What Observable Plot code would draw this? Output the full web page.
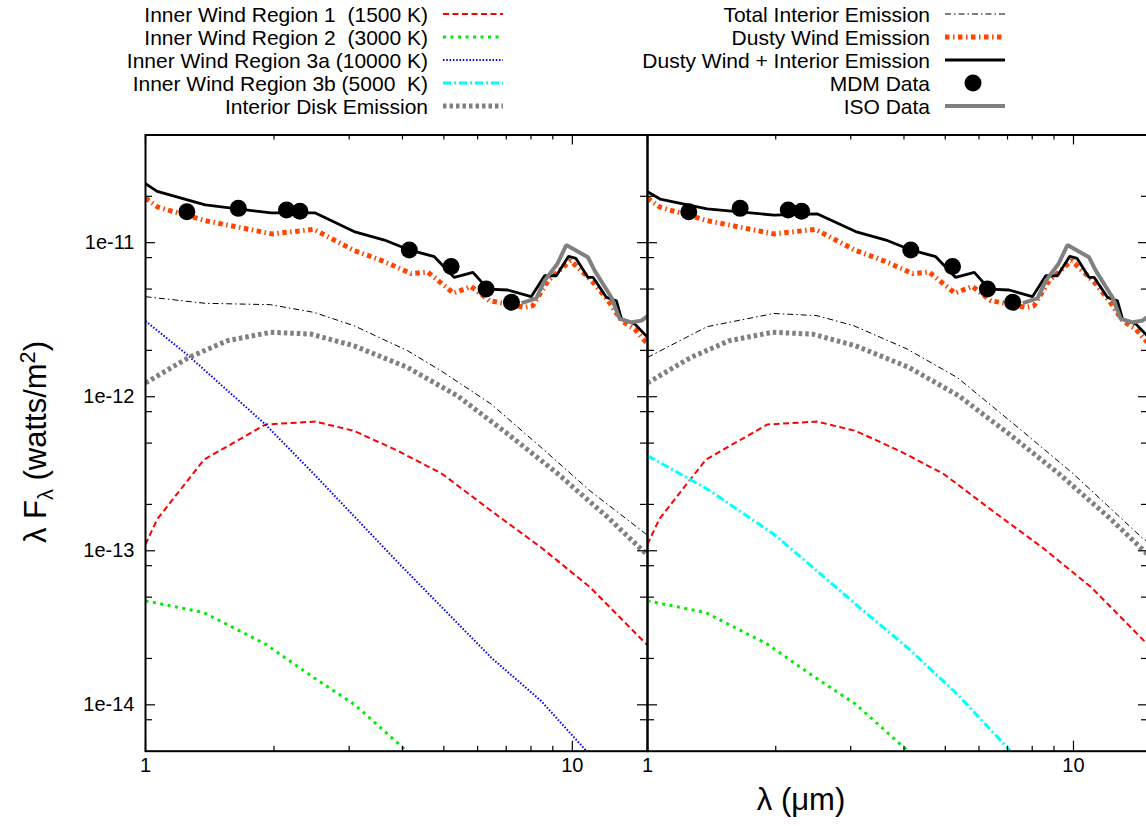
<!DOCTYPE html>
<html><head><meta charset="utf-8">
<script src="https://cdn.jsdelivr.net/npm/d3@7"></script>
<script src="https://cdn.jsdelivr.net/npm/@observablehq/plot@0.6"></script>
<style>
html,body{margin:0;padding:0;background:#fff;}
#root{position:relative;width:1146px;height:826px;overflow:hidden;font-family:"Liberation Sans",Arial,sans-serif;color:#000;background:#fff;}
.pl{position:absolute;top:120px;}
.legtxt{position:absolute;font-size:21px;white-space:pre;text-align:right;line-height:23px;}
.legsw{position:absolute;}
#ylab{position:absolute;left:37px;top:442px;transform:translate(-50%,-50%) rotate(-90deg);font-size:31px;white-space:nowrap;}
#xlab{position:absolute;left:801px;top:800px;transform:translate(-50%,-50%);font-size:31px;white-space:nowrap;}
sub,sup{font-size:70%;}
</style></head><body><div id="root"></div>
<script>
// ---------------- data ----------------
const xMajor = [1, 10];
const xMinor = [2, 3, 4, 5, 6, 7, 8, 9];
const yMajor = [1e-14, 1e-13, 1e-12, 1e-11];
const yMinor = [8e-15, 2e-14, 5e-14, 8e-14, 2e-13, 5e-13, 8e-13, 2e-12, 5e-12, 8e-12, 2e-11];

// Inner Wind Region 1 (1500 K)
const r1X = [1.0, 1.065, 1.37, 1.91, 2.5, 3.08, 3.9, 4.96, 6.45, 8.45, 11.0, 14.9, 15.3];
const r1Y = [1.1e-13, 1.6e-13, 3.9e-13, 6.6e-13, 6.9e-13, 6.0e-13, 4.46e-13, 3.15e-13, 1.82e-13, 1.05e-13, 5.8e-14, 2.48e-14, 2.3e-14];
// Inner Wind Region 2 (3000 K)
const r2X = [1.0, 1.37, 1.91, 2.48, 3.08, 4.04, 4.5];
const r2Y = [4.73e-14, 3.97e-14, 2.48e-14, 1.5e-14, 1.01e-14, 5.16e-15, 3.4e-15];
// Inner Wind Region 3a (10000 K)
const r3aX = [1.0, 1.26, 1.91, 2.48, 3.97, 6.45, 8.45, 10.8, 11.6];
const r3aY = [3.1e-12, 1.85e-12, 6.6e-13, 3.15e-13, 8.0e-14, 2.03e-14, 1.06e-14, 5.0e-15, 4.0e-15];
// Inner Wind Region 3b (5000 K)
const r3bX = [1.0, 1.38, 1.98, 2.5, 3.05, 4.07, 5.34, 6.98, 7.6];
const r3bY = [4.14e-13, 2.52e-13, 1.28e-13, 7.4e-14, 4.6e-14, 2.36e-14, 1.17e-14, 5.3e-15, 4.0e-15];
// Interior Disk Emission
const diskX = [1.0, 1.264, 1.555, 1.965, 2.44, 3.08, 4.11, 5.39, 7.06, 9.26, 12.13, 14.92, 15.3];
const diskY = [1.23e-12, 1.8e-12, 2.31e-12, 2.62e-12, 2.55e-12, 2.14e-12, 1.55e-12, 1.01e-12, 5.73e-13, 3.15e-13, 1.64e-13, 9.5e-14, 9.0e-14];
// Total Interior Emission (left: with 3a, right: with 3b)
const intLX = [1.0, 1.38, 1.96, 2.48, 3.08, 4.11, 4.93, 6.45, 8.45, 11.0, 14.9, 15.3];
const intLY = [4.46e-12, 4.04e-12, 3.96e-12, 3.53e-12, 2.89e-12, 1.99e-12, 1.47e-12, 8.97e-13, 4.69e-13, 2.45e-13, 1.28e-13, 1.22e-13];
const intRX = [1.0, 1.38, 1.98, 2.5, 3.05, 4.07, 5.34, 7.65, 10.0, 14.6, 15.3];
const intRY = [1.8e-12, 2.85e-12, 3.47e-12, 3.36e-12, 2.89e-12, 2.04e-12, 1.33e-12, 5.87e-13, 3.15e-13, 1.19e-13, 1.1e-13];
// Dusty Wind Emission
const windX = [1.0, 1.07, 1.38, 1.98, 2.48, 3.08, 3.6, 4.19, 4.58, 5.27, 5.79, 6.4, 7.06, 7.74, 8.08, 8.77, 9.9, 10.69, 11.28, 12.13, 13.03, 14.0, 14.78, 15.3];
const windY = [1.95e-11, 1.7e-11, 1.39e-11, 1.14e-11, 1.22e-11, 8.9e-12, 7.6e-12, 6.3e-12, 6.45e-12, 4.7e-12, 5.2e-12, 4.2e-12, 4.0e-12, 3.8e-12, 3.9e-12, 5.67e-12, 7.64e-12, 6.26e-12, 5.39e-12, 4.2e-12, 3.12e-12, 2.75e-12, 2.31e-12, 2.15e-12];
// Dusty Wind + Interior Emission
const totLX = [1.0, 1.065, 1.38, 1.97, 2.5, 3.08, 3.63, 4.15, 4.75, 5.29, 5.85, 6.34, 7.06, 8.01, 8.61, 9.17, 9.8, 10.2, 10.88, 11.19, 12.02, 12.68, 13.03, 14.0, 15.3];
const totLY = [2.42e-11, 2.15e-11, 1.76e-11, 1.56e-11, 1.56e-11, 1.18e-11, 1.04e-11, 8.97e-12, 8.11e-12, 5.95e-12, 6.41e-12, 5.0e-12, 4.93e-12, 4.46e-12, 6.1e-12, 6.1e-12, 8.15e-12, 7.9e-12, 5.95e-12, 5.95e-12, 4.41e-12, 4.2e-12, 3.2e-12, 2.97e-12, 2.3e-12];
const totRX = [1.0, 1.07, 1.38, 1.98, 2.5, 3.08, 3.63, 4.15, 4.75, 5.29, 5.85, 6.34, 7.06, 8.01, 8.61, 9.17, 9.8, 10.2, 10.88, 11.19, 12.02, 12.68, 13.03, 14.0, 15.3];
const totRY = [2.14e-11, 1.92e-11, 1.66e-11, 1.51e-11, 1.54e-11, 1.18e-11, 1.04e-11, 8.97e-12, 8.11e-12, 5.95e-12, 6.41e-12, 5.0e-12, 4.93e-12, 4.46e-12, 6.1e-12, 6.1e-12, 8.15e-12, 7.9e-12, 5.95e-12, 5.95e-12, 4.41e-12, 4.2e-12, 3.2e-12, 2.97e-12, 2.3e-12];
// MDM Data
const mdmX = [1.25, 1.65, 2.14, 2.3, 4.15, 5.2, 6.28, 7.2];
const mdmY = [1.59e-11, 1.67e-11, 1.63e-11, 1.6e-11, 8.97e-12, 7.0e-12, 5.0e-12, 4.1e-12];
// ISO Data
const isoX = [7.6, 8.23, 8.61, 9.22, 9.68, 10.88, 11.28, 12.35, 12.91, 13.76, 14.52, 15.05, 15.4];
const isoY = [4.05e-12, 4.35e-12, 5.67e-12, 7.27e-12, 9.66e-12, 8.03e-12, 6.58e-12, 4.41e-12, 3.2e-12, 3.04e-12, 3.12e-12, 3.36e-12, 3.5e-12];

const legendLeft = [
  {label: "Inner Wind Region 1  (1500 K)", stroke: "#ff0000", width: 2, dash: "6,3.5"},
  {label: "Inner Wind Region 2  (3000 K)", stroke: "#00ee00", width: 3, dash: "3,4.5"},
  {label: "Inner Wind Region 3a (10000 K)", stroke: "#0000ff", width: 2, dash: "1.5,1.8"},
  {label: "Inner Wind Region 3b (5000  K)", stroke: "#00ffff", width: 3, dash: "8,3,2,3"},
  {label: "Interior Disk Emission", stroke: "#808080", width: 5, dash: "3.5,3"}
];
const legendRight = [
  {label: "Total Interior Emission", stroke: "#000000", width: 1, dash: "6,3,1.5,3"},
  {label: "Dusty Wind Emission", stroke: "#ff4500", width: 5, dash: "4.5,3.5,1.5,3.5"},
  {label: "Dusty Wind + Interior Emission", stroke: "#000000", width: 2.8, dash: null},
  {label: "MDM Data", dot: true},
  {label: "ISO Data", stroke: "#808080", width: 4, dash: null}
];

// ---------------- helpers ----------------
const pts = (xs, ys) => xs.map((x, i) => ({x, y: ys[i]}));
const root = document.getElementById("root");
const FONT = "Liberation Sans, Arial, sans-serif";
const TOP = 120, MT = 14.5, MB = 75.3, H = 706;
const IH = H - MT - MB;

function panel({left, width, ml, mr, interior, r3, r3style, total, showY}) {
  const IW = width - ml - mr;
  const majL = 10, minL = 5;
  const lineOpt = (s) => ({x: "x", y: "y", stroke: s.stroke, strokeWidth: s.width,
    strokeDasharray: s.dash || undefined, strokeLinecap: "butt", strokeLinejoin: "miter", clip: true});
  const marks = [
    Plot.line(pts(r1X, r1Y), lineOpt(legendLeft[0])),
    Plot.line(pts(r2X, r2Y), lineOpt(legendLeft[1])),
    Plot.line(r3, lineOpt(r3style)),
    Plot.line(pts(diskX, diskY), lineOpt(legendLeft[4])),
    Plot.line(interior, lineOpt(legendRight[0])),
    Plot.line(pts(windX, windY), lineOpt(legendRight[1])),
    Plot.line(total, lineOpt(legendRight[2])),
    Plot.dot(pts(mdmX, mdmY), {x: "x", y: "y", r: 8.5, fill: "black", clip: true}),
    Plot.line(pts(isoX, isoY), lineOpt(legendRight[4])),
    // inward ticks
    Plot.tickX(xMajor, {x: d => d, insetTop: IH - majL, stroke: "black", strokeWidth: 1.2}),
    Plot.tickX(xMinor, {x: d => d, insetTop: IH - minL, stroke: "black", strokeWidth: 1.2}),
    Plot.tickX(xMajor, {x: d => d, insetBottom: IH - majL, stroke: "black", strokeWidth: 1.2}),
    Plot.tickX(xMinor, {x: d => d, insetBottom: IH - minL, stroke: "black", strokeWidth: 1.2}),
    Plot.tickY(yMajor, {y: d => d, insetRight: IW - majL, stroke: "black", strokeWidth: 1.2}),
    Plot.tickY(yMinor, {y: d => d, insetRight: IW - minL - 2, stroke: "black", strokeWidth: 1.2}),
    Plot.tickY(yMajor, {y: d => d, insetLeft: IW - majL, stroke: "black", strokeWidth: 1.2}),
    Plot.tickY(yMinor, {y: d => d, insetLeft: IW - minL - 2, stroke: "black", strokeWidth: 1.2}),
    Plot.frame({stroke: "black", strokeWidth: 2}),
    Plot.text(xMajor, {x: d => d, text: d => String(d), frameAnchor: "bottom", dy: 21, fontSize: 20, fill: "black"})
  ];
  if (showY) {
    marks.push(Plot.text(yMajor, {y: d => d, text: d => d.toExponential(0), frameAnchor: "left", textAnchor: "end", dx: -11, fontSize: 20, fill: "black"}));
  }
  const svg = Plot.plot({
    width, height: H,
    marginLeft: ml, marginRight: mr, marginTop: MT, marginBottom: MB,
    x: {type: "log", domain: [1, 15], axis: null},
    y: {type: "log", domain: [5e-15, 5e-11], axis: null},
    style: {fontFamily: FONT, fontSize: "20px", background: "transparent", overflow: "visible", color: "black"},
    marks
  });
  svg.classList.add("pl");
  svg.style.left = left + "px";
  svg.style.top = TOP + "px";
  svg.style.maxWidth = "none";
  root.appendChild(svg);
}

panel({left: 0, width: 650, ml: 145, mr: 3,
  interior: pts(intLX, intLY), r3: pts(r3aX, r3aY), r3style: legendLeft[2],
  total: pts(totLX, totLY), showY: true});
panel({left: 644, width: 507, ml: 3, mr: 3,
  interior: pts(intRX, intRY), r3: pts(r3bX, r3bY), r3style: legendLeft[3],
  total: pts(totRX, totRY), showY: false});

// ---------------- legend ----------------
function legend(items, textRight, swLeft) {
  items.forEach((it, i) => {
    const cy = 14 + i * 23;
    const t = document.createElement("div");
    t.className = "legtxt";
    t.textContent = it.label;
    t.style.right = (1146 - textRight) + "px";
    t.style.top = (cy - 11.5) + "px";
    root.appendChild(t);
    const sw = d3.create("svg").attr("class", "legsw").attr("width", 64).attr("height", 20)
      .style("left", swLeft + "px").style("top", (cy - 10) + "px");
    if (it.dot) {
      sw.append("circle").attr("cx", 30).attr("cy", 10).attr("r", 8.5).attr("fill", "black");
    } else {
      sw.append("line").attr("x1", 2).attr("x2", 62).attr("y1", 10).attr("y2", 10)
        .attr("stroke", it.stroke).attr("stroke-width", it.width)
        .attr("stroke-dasharray", it.dash);
    }
    root.appendChild(sw.node());
  });
}
legend(legendLeft, 428, 441);
legend(legendRight, 930, 943);

// ---------------- axis titles ----------------
const yl = document.createElement("div");
yl.id = "ylab";
yl.innerHTML = "λ F<sub>λ</sub> (watts/m<sup>2</sup>)";
root.appendChild(yl);
const xl = document.createElement("div");
xl.id = "xlab";
xl.textContent = "λ (μm)";
root.appendChild(xl);
</script></body></html>
